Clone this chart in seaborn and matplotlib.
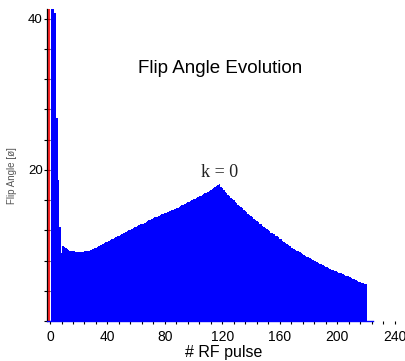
import numpy as np
import pandas as pd
import seaborn as sns
import matplotlib.pyplot as plt
from matplotlib.ticker import MultipleLocator, FixedLocator

sns.set_theme(style='white')
plt.rcParams['font.family'] = ['Liberation Sans', 'DejaVu Sans']

# flip angle (deg) per RF pulse
pulses = np.arange(1, 221)
flip_angle = [
    60.0, 50.0, 40.8, 40.8, 26.9, 18.7, 12.4, 9.0, 9.9, 9.8,
    9.6, 9.5, 9.4, 9.3, 9.3, 9.2, 9.2, 9.1, 9.1, 9.1,
    9.1, 9.1, 9.1, 9.2, 9.2, 9.3, 9.3, 9.4, 9.4, 9.5,
    9.6, 9.7, 9.8, 9.9, 10.0, 10.1, 10.2, 10.3, 10.4, 10.5,
    10.6, 10.7, 10.8, 10.9, 11.0, 11.1, 11.2, 11.3, 11.4, 11.5,
    11.6, 11.7, 11.8, 11.9, 12.0, 12.1, 12.2, 12.3, 12.4, 12.5,
    12.6, 12.7, 12.8, 12.9, 12.9, 13.0, 13.1, 13.2, 13.3, 13.4,
    13.5, 13.6, 13.7, 13.8, 13.8, 13.9, 14.0, 14.1, 14.2, 14.3,
    14.3, 14.4, 14.5, 14.6, 14.7, 14.7, 14.8, 14.9, 15.0, 15.1,
    15.2, 15.3, 15.4, 15.5, 15.6, 15.7, 15.8, 15.9, 16.0, 16.1,
    16.2, 16.3, 16.4, 16.5, 16.6, 16.7, 16.8, 16.9, 17.0, 17.1,
    17.2, 17.3, 17.5, 17.6, 17.7, 17.9, 18.0, 18.1, 17.8, 17.6,
    17.3, 17.1, 16.9, 16.7, 16.5, 16.3, 16.1, 16.0, 15.8, 15.6,
    15.4, 15.2, 15.1, 14.9, 14.7, 14.5, 14.4, 14.2, 14.0, 13.9,
    13.7, 13.5, 13.4, 13.2, 13.1, 12.9, 12.8, 12.6, 12.5, 12.3,
    12.2, 12.0, 11.9, 11.7, 11.6, 11.5, 11.3, 11.2, 11.1, 10.9,
    10.8, 10.6, 10.5, 10.3, 10.2, 10.0, 9.9, 9.7, 9.6, 9.5,
    9.4, 9.3, 9.2, 9.1, 9.0, 8.9, 8.7, 8.6, 8.5, 8.4,
    8.3, 8.2, 8.1, 8.0, 7.9, 7.8, 7.7, 7.6, 7.5, 7.4,
    7.3, 7.2, 7.1, 7.0, 6.9, 6.8, 6.7, 6.6, 6.6, 6.5,
    6.4, 6.3, 6.3, 6.2, 6.1, 6.0, 6.0, 5.9, 5.8, 5.7,
    5.6, 5.5, 5.4, 5.3, 5.2, 5.1, 5.0, 5.0, 4.9, 4.85,
]
df = pd.DataFrame({'pulse': pulses, 'angle': flip_angle})

fig = plt.figure(figsize=(4.06, 3.61), dpi=100)
ax = fig.add_axes([0.1158, 0.111, 0.874, 0.864])

sns.histplot(data=df, x='pulse', weights='angle', binwidth=1, binrange=(0.5, 220.5),
             element='step', fill=True, color='#0000ff', alpha=1, linewidth=0, ax=ax)
ax.axvline(-0.6, color='#ff0000', lw=1.2)

ax.set_xlim(-2.1, 245)
ax.set_ylim(0, 41.3)

ax.xaxis.set_major_locator(FixedLocator([0, 40, 80, 120, 160, 200, 240]))
ax.xaxis.set_minor_locator(MultipleLocator(8))
ax.yaxis.set_major_locator(FixedLocator([20, 40]))
ax.yaxis.set_minor_locator(MultipleLocator(4))
ax.tick_params(axis='x', which='both', direction='out', length=2.5, width=0.8,
               color='black', labelsize=10, labelcolor='black', pad=4)
ax.tick_params(axis='y', which='both', direction='inout', length=4, width=0.8,
               color='black', labelsize=9.5, labelcolor='black', pad=1)
ax.tick_params(left=True, bottom=True)
ax.tick_params(axis='x', which='minor', bottom=True)
ax.tick_params(axis='y', which='minor', left=True)

for s in ['top', 'right']:
    ax.spines[s].set_visible(False)
ax.spines['left'].set_color('black')
ax.spines['left'].set_linewidth(0.9)
ax.spines['bottom'].set_color('#0000ff')
ax.spines['bottom'].set_linewidth(1)
ax.spines['bottom'].set_bounds(-2.1, 225)

ax.set_xlabel('# RF pulse', fontsize=11.5, color='black')
ax.xaxis.set_label_coords(0.4986, -0.077)
ax.set_ylabel('Flip Angle [ø]', fontsize=7, color='#555555')
ax.yaxis.set_label_coords(-0.085, 0.465)

ax.text(0.487, 0.81, 'Flip Angle Evolution', transform=ax.transAxes,
        ha='center', va='center', fontsize=13.5, color='black')
ax.text(118, 19.6, 'k = 0', family=['Liberation Serif', 'DejaVu Serif'],
        ha='center', va='center', fontsize=13, color='#222222')

fig.savefig('out.png', dpi=100)
